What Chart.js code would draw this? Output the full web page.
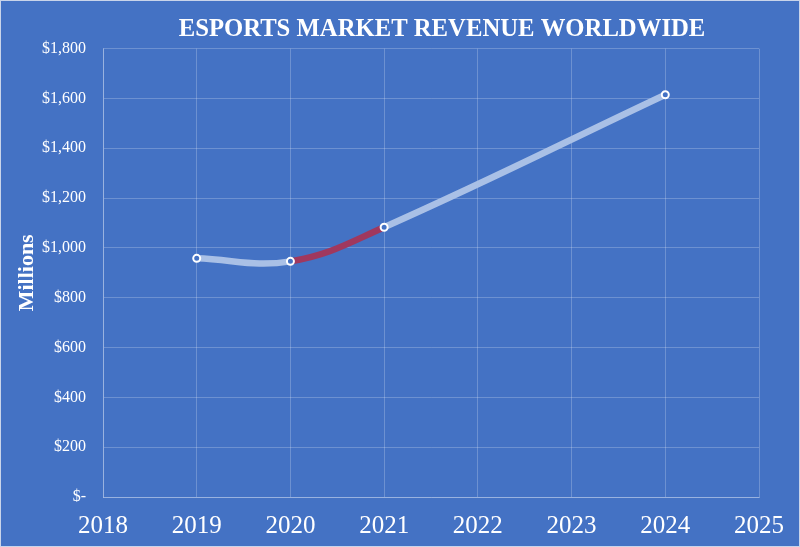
<!DOCTYPE html>
<html>
<head>
<meta charset="utf-8">
<script src="https://cdn.jsdelivr.net/npm/chart.js@4"></script>
<style>
  html, body { margin: 0; padding: 0; background: #4472C4; }
  #wrap { width: 798px; height: 545px; border: 1px solid #c9d4ea; background: #4472C4; }
</style>
</head>
<body>
<div id="wrap"><canvas id="revenueChart" width="798" height="545"></canvas></div>
<script>
// chart data
const years = [2019, 2020, 2021, 2024];
const revenue = [958, 946, 1083, 1615];
const yTicks = [0, 200, 400, 600, 800, 1000, 1200, 1400, 1600, 1800];

const lineBlue = '#a9c0e6';
const lineRed = '#a0385e';
const serif = "'Liberation Serif', 'DejaVu Serif', serif";

// title sits a little right of the plot centre in the original
const shiftTitle = {
    id: 'shiftTitle',
    afterLayout(chart) {
        if (chart.titleBlock) chart.titleBlock.left += 22;
    }
};

document.addEventListener('DOMContentLoaded', function() {
    new Chart(document.getElementById('revenueChart'), {
        type: 'line',
        data: {
            datasets: [{
                label: 'Revenue',
                data: years.map((y, i) => ({ x: y, y: revenue[i] })),
                borderColor: lineBlue,
                borderWidth: 6.5,
                tension: 0.4,
                pointRadius: 3.5,
                pointBorderWidth: 2,
                pointBackgroundColor: '#4472C4',
                pointBorderColor: '#ffffff',
                segment: {
                    borderColor: ctx => ctx.p0.parsed.x === 2020 ? lineRed : lineBlue
                }
            }]
        },
        plugins: [shiftTitle],
        options: {
            responsive: false,
            animation: false,
            layout: { padding: { left: 13, right: 40, top: 8, bottom: 0 } },
            plugins: {
                legend: { display: false },
                tooltip: { enabled: false },
                title: {
                    display: true,
                    fullSize: false,
                    text: 'ESPORTS MARKET REVENUE WORLDWIDE',
                    color: '#ffffff',
                    font: { family: serif, size: 24.7, weight: 'bold' },
                    padding: { top: 6, bottom: 4 }
                }
            },
            scales: {
                x: {
                    type: 'linear',
                    min: 2018,
                    max: 2025,
                    afterFit: axis => { axis.height = 49; },
                    ticks: {
                        stepSize: 1,
                        color: '#ffffff',
                        font: { family: serif, size: 25 },
                        callback: v => String(v),
                        padding: 14
                    },
                    grid: { color: 'rgba(255,255,255,0.22)', drawTicks: false },
                    border: { color: 'rgba(255,255,255,0.3)' }
                },
                y: {
                    min: 0,
                    max: 1800,
                    afterFit: axis => { axis.width = 89; },
                    afterBuildTicks: axis => { axis.ticks = yTicks.map(v => ({ value: v })); },
                    ticks: {
                        color: '#ffffff',
                        font: { family: serif, size: 16 },
                        padding: 17,
                        callback: v => v === 0 ? '$-' : '$' + v.toLocaleString('en-US')
                    },
                    grid: { color: 'rgba(255,255,255,0.22)', drawTicks: false },
                    border: { color: 'rgba(255,255,255,0.3)' },
                    title: {
                        display: true,
                        text: 'Millions',
                        color: '#ffffff',
                        font: { family: serif, size: 22, weight: 'bold' },
                        padding: { top: 0, bottom: 4 }
                    }
                }
            }
        }
    });
});
</script>
</body>
</html>
